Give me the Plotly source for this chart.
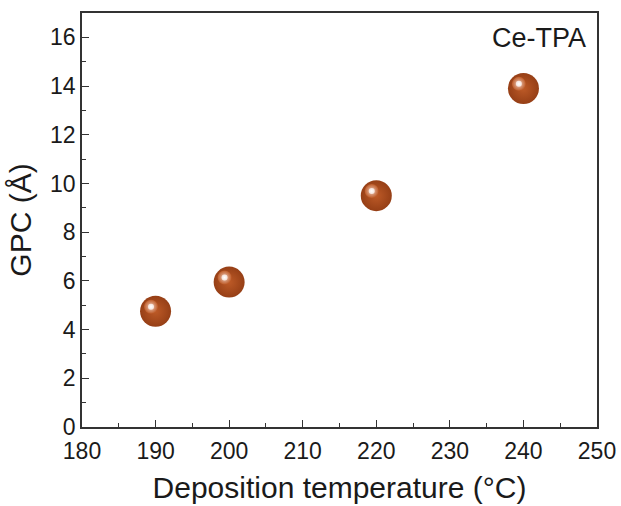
import plotly.graph_objects as go

# Data
temperature = [190, 200, 220, 240]
gpc = [4.75, 5.95, 9.5, 13.9]
x_ticks = [180, 190, 200, 210, 220, 230, 240, 250]
y_ticks = [0, 2, 4, 6, 8, 10, 12, 14, 16]
label = "Ce-TPA"

# highlight offset (visual sphere effect), in data units
hx = -0.62
hy = 0.19

fig = go.Figure()
# base sphere
fig.add_trace(go.Scatter(
    x=temperature, y=gpc, mode="markers",
    marker=dict(size=31, color="#963f16",
                gradient=dict(type="radial", color="#bd5a27"),
                line=dict(width=0)),
    hoverinfo="skip", showlegend=False))
# highlight halo
fig.add_trace(go.Scatter(
    x=[t + hx for t in temperature], y=[g + hy for g in gpc], mode="markers",
    marker=dict(size=14, color="#bd5a27",
                gradient=dict(type="radial", color="#efcfc0"),
                line=dict(width=0)),
    hoverinfo="skip", showlegend=False))
# highlight core
fig.add_trace(go.Scatter(
    x=[t + hx for t in temperature], y=[g + hy for g in gpc], mode="markers",
    marker=dict(size=6, color="#f5e2da",
                gradient=dict(type="radial", color="#ffffff"),
                line=dict(width=0)),
    hoverinfo="skip", showlegend=False))

font_family = "Liberation Sans, Arial, sans-serif"
axis_common = dict(
    showline=True, linecolor="#333333", linewidth=1.5, mirror=True,
    ticks="inside", ticklen=7, tickwidth=1.3, tickcolor="#333333",
    showgrid=False, zeroline=False, automargin=False,
    tickfont=dict(family=font_family, size=23, color="#1a1a1a"),
)

fig.update_xaxes(
    range=[180, 250], tickvals=x_ticks, ticktext=[str(v) for v in x_ticks],
    minor=dict(ticks="inside", ticklen=4, dtick=5, tick0=180, tickcolor="#333333", tickwidth=1.2),
    ticklabelstandoff=3,
    title=dict(text="Deposition temperature (°C)", font=dict(family=font_family, size=30, color="#1a1a1a"), standoff=14),
    **axis_common)
fig.update_yaxes(
    range=[0, 17], tickvals=y_ticks, ticktext=[str(v) for v in y_ticks],
    minor=dict(ticks="inside", ticklen=4, dtick=1, tick0=0, tickcolor="#333333", tickwidth=1.2),
    title=dict(text="GPC (Å)", font=dict(family=font_family, size=30, color="#1a1a1a"), standoff=10),
    **axis_common)

fig.add_annotation(text=label, xref="paper", yref="paper", x=0.983, y=0.94,
                   xanchor="right", yanchor="middle", showarrow=False,
                   font=dict(family=font_family, size=27, color="#1a1a1a"))

fig.update_layout(
    width=621, height=506,
    margin=dict(l=82, r=24, t=13, b=79),
    plot_bgcolor="white", paper_bgcolor="white",
)

fig.write_html("out.html", config={"displayModeBar": False},
               post_script="document.body.style.margin='0';document.body.style.overflow='hidden';")
